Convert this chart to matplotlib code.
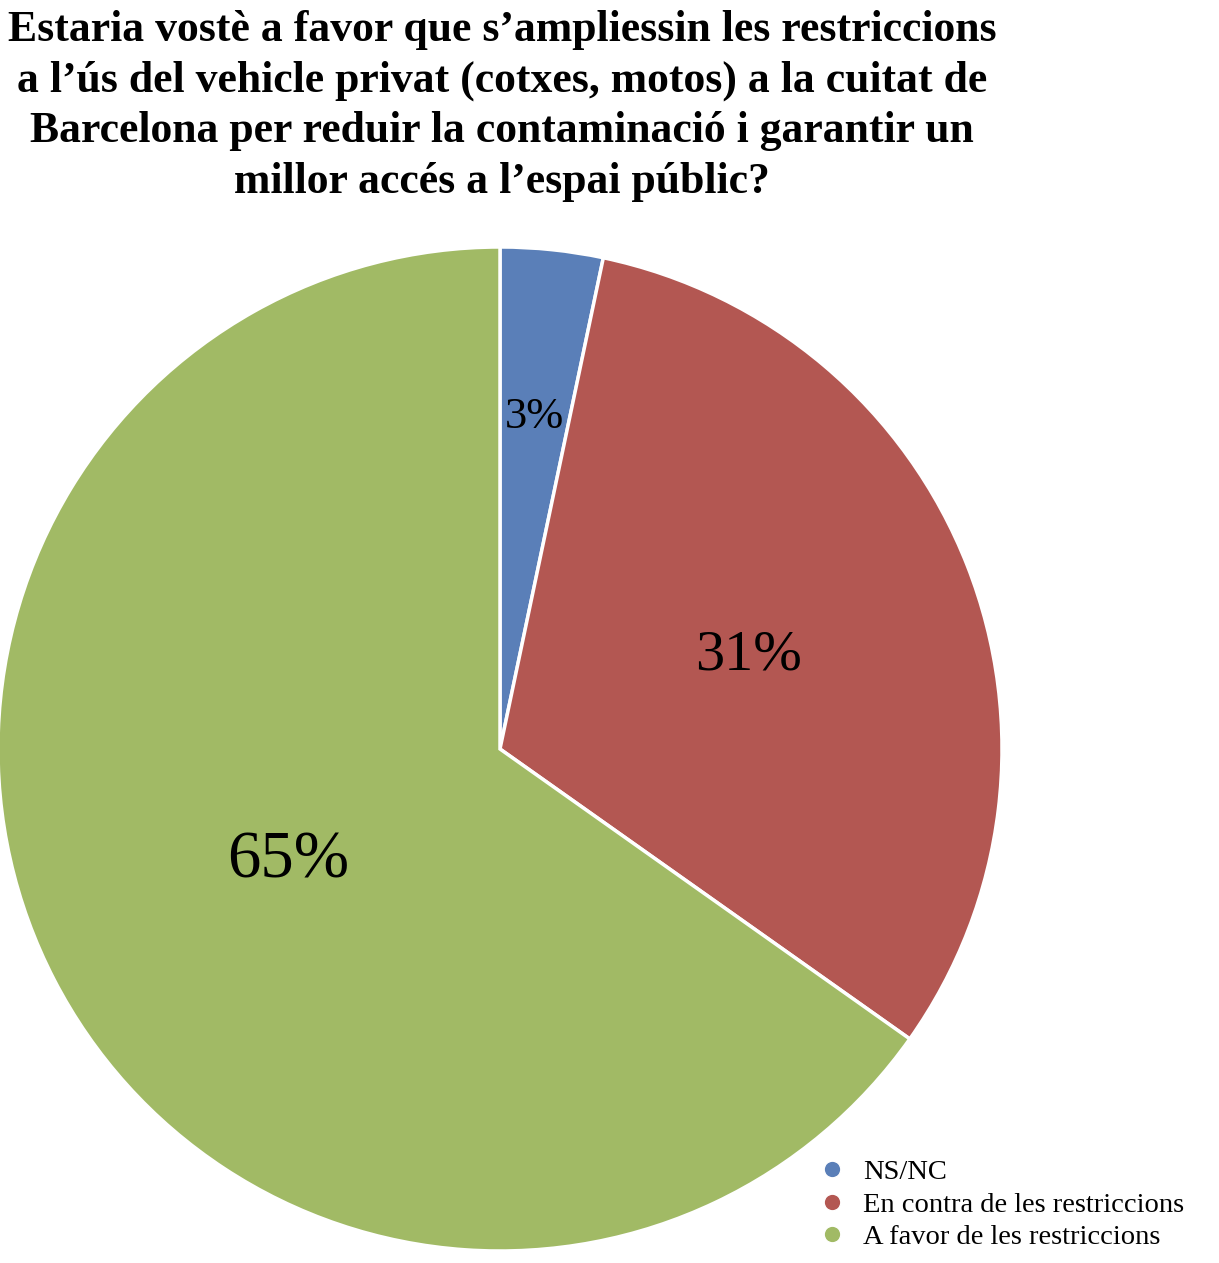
import matplotlib
matplotlib.use("Agg")
import matplotlib.pyplot as plt
from matplotlib.lines import Line2D

title = ("Estaria vostè a favor que s’ampliessin les restriccions\n"
         "a l’ús del vehicle privat (cotxes, motos) a la cuitat de\n"
         "Barcelona per reduir la contaminació i garantir un\n"
         "millor accés a l’espai públic?")
categories = ["NS/NC", "En contra de les restriccions", "A favor de les restriccions"]
values = [3.3, 31.5, 65.2]
labels = ["3%", "31%", "65%"]
colors = ["#5A7FB8", "#B35752", "#A1BA65"]

W, H = 1219, 1263
fig = plt.figure(figsize=(W / 100, H / 100), dpi=100)
plt.rcParams['font.family'] = ['Liberation Serif', 'DejaVu Serif']

cx, cy, r = 500, 749, 502
ax = fig.add_axes([(cx - r) / W, (H - cy - r) / H, 2 * r / W, 2 * r / H])
wedges, _ = ax.pie(values, colors=colors, startangle=90, counterclock=False,
                   radius=1, wedgeprops=dict(edgecolor="white", linewidth=2.5))
ax.set_xlim(-1, 1)
ax.set_ylim(-1, 1)
ax.set_aspect("equal")
ax.axis("off")

def px(x, y):
    return ((x - cx) / r, (cy - y) / r)

label_pos = [(534, 417), (748, 656), (288, 861)]
label_size = [32, 42, 48]
for lab, (x, y), s in zip(labels, label_pos, label_size):
    ax.text(*px(x, y), lab, ha="center", va="center", fontsize=s, color="black")

fig.text(502 / W, 1 - 106 / H, title, ha="center", va="center", fontsize=31.5,
         fontweight="bold", linespacing=1.33)

handles = [Line2D([0], [0], marker="o", linestyle="none", markersize=12,
                  markerfacecolor=c, markeredgecolor="white", markeredgewidth=1)
           for c in colors]
fig.legend(handles, categories, loc="upper left",
           bbox_to_anchor=(818 / W, 1 - 1159 / H), frameon=False, fontsize=20.5,
           handletextpad=0.59, labelspacing=0.24, borderaxespad=0, handlelength=1.0,
           borderpad=0)

fig.savefig("out.png", dpi=100)
